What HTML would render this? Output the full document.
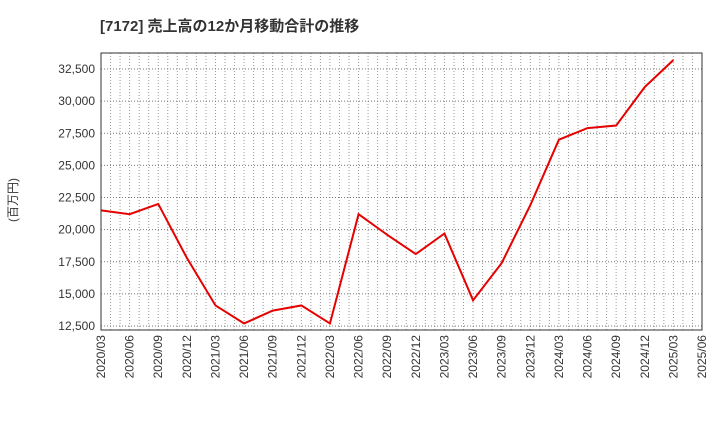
<!DOCTYPE html>
<html><head><meta charset="utf-8"><style>
body{margin:0;background:#fff;}
svg{font-family:"Liberation Sans","Noto Sans CJK JP",sans-serif;}
</style></head><body>
<svg width="720" height="440" id="c">
<text x="100" y="31" font-size="15" font-weight="bold" fill="#333">[7172]  売上高の12か月移動合計の推移</text>
<text transform="translate(17,200) rotate(-90)" font-size="12" fill="#333" text-anchor="middle">(百万円)</text>
<g id="grid"></g><g id="ticks"></g><g id="series"></g>
<rect x="101" y="53" width="601" height="277" fill="none" stroke="#333" stroke-width="1"/>
</svg>
<script>
const categories=["2020/03","2020/06","2020/09","2020/12","2021/03","2021/06","2021/09","2021/12","2022/03","2022/06","2022/09","2022/12","2023/03","2023/06","2023/09","2023/12","2024/03","2024/06","2024/09","2024/12","2025/03","2025/06"];
const salesValues=[21500,21200,22000,17800,14100,12700,13700,14100,12700,21200,19600,18100,19700,14500,17400,21900,27000,27900,28100,31100,33200];
const yTicks=[12500,15000,17500,20000,22500,25000,27500,30000,32500];
const ns="http://www.w3.org/2000/svg";
const L=101,R=702,T=53,B=330;
const yMin=12190,yMax=33745;
const x=i=>L+(R-L)*i/(categories.length-1);
const y=v=>B-(v-yMin)/(yMax-yMin)*(B-T);
function mk(t,a,p){const e=document.createElementNS(ns,t);for(const k in a)e.setAttribute(k,a[k]);p.appendChild(e);return e;}
const g=document.getElementById('grid'),tk=document.getElementById('ticks'),s=document.getElementById('series');
for(let m=1;m<(categories.length-1)*3;m++){
 const xx=L+(R-L)*m/((categories.length-1)*3);
 const l=mk('line',{x1:xx,x2:xx,y1:T,y2:B,stroke:'#999','stroke-dasharray':'1,2','stroke-width':1},g);
 
 
}
yTicks.forEach(v=>{
 const l=mk('line',{x1:L,x2:R,y1:y(v),y2:y(v),stroke:'#777','stroke-dasharray':'1,2','stroke-width':1},g);
 
 
 const t=mk('text',{x:L-6,y:y(v)+4,'font-size':12,fill:'#333','text-anchor':'end'},tk);
 t.textContent=v.toLocaleString('en-US');
 
 
});
categories.forEach((c,i)=>{
 const t=mk('text',{transform:`translate(${x(i)+4},${B+5}) rotate(-90)`,'font-size':12,fill:'#333','text-anchor':'end'},tk);
 t.textContent=c;
 
 
});
const p=mk('polyline',{points:salesValues.map((v,i)=>x(i)+','+y(v)).join(' '),fill:'none',stroke:'#e60000','stroke-width':2},s);


</script>
</body></html>
